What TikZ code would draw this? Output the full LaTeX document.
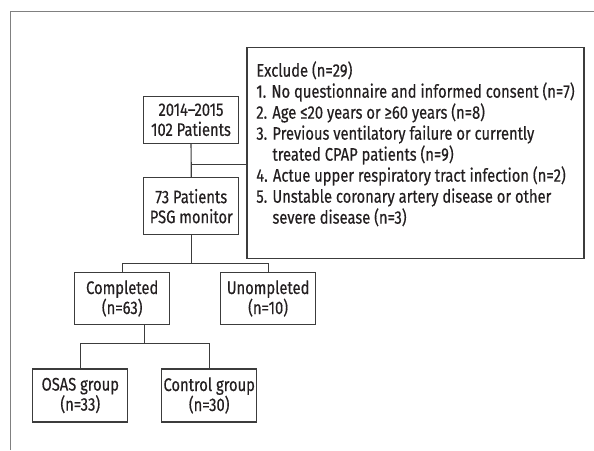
\documentclass[tikz,border=0pt]{standalone}
\usepackage{fontspec}
\setmainfont[FakeStretch=0.81,FakeBold=0.4,Numbers=Proportional]{Fira Sans}
\definecolor{ln}{RGB}{60,60,60}
\definecolor{tx}{RGB}{35,31,32}

\begin{document}
\begin{tikzpicture}[x=1pt,y=-1pt,font=\fontsize{18.2}{20}\selectfont,anchor=center,
	box/.style={draw=ln, line width=1.2pt, text=tx, inner sep=0pt, align=center, minimum height=52pt, minimum width=95pt},
	link/.style={draw=ln, line width=1.2pt}]
	\useasboundingbox		(0,0) rectangle (594,450);
	\draw[gray, line width=1pt]		(10,450) -- (10,11) -- (594,11);

	\node[box, minimum height=47pt]		(years) at (191,119.8)	{2014–2015\\102 Patients};
	\node[box, minimum height=57pt]		(psg)   at (191.3,206.2)	{73 Patients\\PSG monitor};
	\node[box, align=left, minimum width=337pt, minimum height=210.6pt,
		font=\fontsize{18.2}{21}\selectfont]	(excl)  at (415.5,153)
		{Exclude (n=29)\\
		1. No questionnaire and informed consent (n=7)\\
		2. Age ≤20 years or ≥60 years (n=8)\\
		3. Previous ventilatory failure or currently\\
		\phantom{3. }treated CPAP patients (n=9)\\
		4. Actue upper respiratory tract infection (n=2)\\
		5. Unstable coronary artery disease or other\\
		\phantom{5. }severe disease (n=3)\\
		\mbox{}};

	\node[box]		(comp) at (122.2,298.5)	{Completed\\(n=63)};
	\node[box]		(unc)  at (268.1,298.5)	{Unompleted\\(n=10)};
	\node[box, minimum height=53pt]		(osas) at (80.3,395.5)	{OSAS group\\(n=33)};
	\node[box, minimum height=53pt]		(ctrl) at (209.2,395.5)	{Control group\\(n=30)};

	\draw[link]		(years) -- (psg);
	\coordinate		(jx) at (191.3,164.3);
	\draw[link]		(jx) -- (jx -| excl.west);

	\draw[link]		(psg.south) -- ++(0,28) coordinate (jp);
	\draw[link]		(comp.north) |- (jp) -| (unc.north);

	\draw[link]		([xshift=22pt]comp.south) -- ++(0,18) coordinate (jc);
	\draw[link]		(osas.north) |- (jc) -| (ctrl.north);
\end{tikzpicture}
\end{document}
